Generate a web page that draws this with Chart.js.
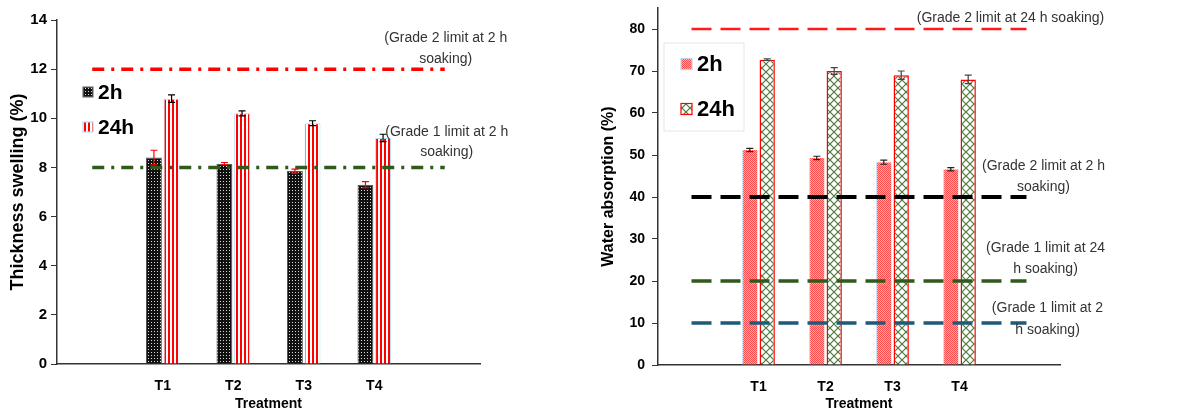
<!DOCTYPE html>
<html lang="en">
<head>
<meta charset="UTF-8" />
<title>Thickness swelling and water absorption</title>
<script src="https://cdn.jsdelivr.net/npm/chart.js"></script>
<style>
  body { margin: 0; background: #fff; }
  .panel { position: absolute; top: 0; height: 413px; }
  #left { left: 0; width: 590px; }
  #right { left: 590px; width: 595px; }
</style>
</head>
<body>
<div class="panel" id="left"><canvas id="swellChart"></canvas></div>
<div class="panel" id="right"><canvas id="waterChart"></canvas></div>

<script>
// ---- data ----
const treatments = ['T1', 'T2', 'T3', 'T4'];

const swell2h = [8.4, 8.15, 7.85, 7.3];
const swell2hErr = [0.3, 0.05, 0.08, 0.12];
const swell24h = [10.8, 10.2, 9.8, 9.2];
const swell24hErr = [0.15, 0.1, 0.1, 0.15];
const swellLimits = [12, 8];
const swellNotes = [['(Grade 2 limit at 2 h', 'soaking)'], ['(Grade 1 limit at 2 h', 'soaking)']];

const water2h = [51.2, 49.3, 48.3, 46.6];
const water2hErr = [0.4, 0.4, 0.5, 0.4];
const water24h = [72.7, 70.0, 69.0, 68.0];
const water24hErr = [0.2, 0.8, 1.0, 1.0];
const waterLimits = [80, 40, 20, 10];
const waterNotes = [['(Grade 2 limit at 24 h soaking)'], ['(Grade 2 limit at 2 h', 'soaking)'],
                    ['(Grade 1 limit at 24', 'h soaking)'], ['(Grade 1 limit at 2', 'h soaking)']];

const seriesNames = ['2h', '24h'];

// empty slot on each side of the treatments, like the original axis
const labels = ['', ...treatments, ''];
const pad = arr => [null, ...arr, null];
const flat = v => labels.map(() => v);

Chart.defaults.font.family = 'Arial, "Liberation Sans", sans-serif';
Chart.defaults.color = '#000';
Chart.defaults.animation = false;

// ---- fill patterns ----
function tile(w, h, draw) {
  const c = document.createElement('canvas');
  c.width = w; c.height = h;
  draw(c.getContext('2d'));
  return c;
}
const pctx = document.getElementById('swellChart').getContext('2d');
const dotsBlack = pctx.createPattern(tile(3, 3, g => {
  g.fillStyle = '#111'; g.fillRect(0, 0, 3, 3);
  g.fillStyle = '#d8d8d8'; g.fillRect(1, 1, 1, 1);
}), 'repeat');
const stripesRed = pctx.createPattern(tile(4, 1, g => {
  g.fillStyle = '#fff'; g.fillRect(0, 0, 4, 1);
  g.fillStyle = '#ff0000'; g.fillRect(0, 0, 2, 1);
}), 'repeat');
const checkSalmon = pctx.createPattern(tile(2, 2, g => {
  g.fillStyle = '#ffaaaa'; g.fillRect(0, 0, 2, 2);
  g.fillStyle = '#ff4c4c'; g.fillRect(0, 0, 1, 1); g.fillRect(1, 1, 1, 1);
}), 'repeat');
const crossGreen = pctx.createPattern(tile(8, 8, g => {
  g.fillStyle = '#fff'; g.fillRect(0, 0, 8, 8);
  g.strokeStyle = '#4d7a3c'; g.lineWidth = 1.2;
  g.beginPath();
  g.moveTo(0, 0); g.lineTo(8, 8);
  g.moveTo(8, 0); g.lineTo(0, 8);
  g.stroke();
}), 'repeat');

// ---- plugins ----
const errorBars = {
  id: 'errorBars',
  afterDatasetsDraw(chart) {
    const ctx = chart.ctx, y = chart.scales.y;
    chart.data.datasets.forEach((ds, i) => {
      if (!ds.errors) return;
      const meta = chart.getDatasetMeta(i);
      ctx.save();
      ctx.strokeStyle = ds.errorColor;
      ctx.lineWidth = 1.2;
      meta.data.forEach((bar, j) => {
        const v = ds.data[j], e = ds.errors[j];
        if (v == null) return;
        const top = y.getPixelForValue(v + e), bot = y.getPixelForValue(v - e);
        ctx.beginPath();
        ctx.moveTo(bar.x, top); ctx.lineTo(bar.x, bot);
        ctx.moveTo(bar.x - 3.5, top); ctx.lineTo(bar.x + 3.5, top);
        ctx.moveTo(bar.x - 3.5, bot); ctx.lineTo(bar.x + 3.5, bot);
        ctx.stroke();
      });
      ctx.restore();
    });
  }
};

const limitNotes = {
  id: 'limitNotes',
  afterDraw(chart, args, opts) {
    const ctx = chart.ctx, x = chart.scales.x, y = chart.scales.y;
    ctx.save();
    ctx.font = '14px Arial, "Liberation Sans", sans-serif';
    ctx.fillStyle = '#333';
    ctx.textAlign = 'center';
    ctx.textBaseline = 'middle';
    opts.items.forEach(it => {
      const cx = x.getPixelForValue(labels.length - 1) + it.dx;
      const base = y.getPixelForValue(it.value);
      it.lines.forEach((t, k) => ctx.fillText(t, cx, base + it.dy[k]));
    });
    ctx.restore();
  }
};

const boxLegend = {
  id: 'boxLegend',
  afterDraw(chart, args, opts) {
    const ctx = chart.ctx, a = chart.chartArea;
    ctx.save();
    if (opts.frame) {
      ctx.strokeStyle = '#e6e6e6'; ctx.lineWidth = 1;
      ctx.strokeRect(a.left + opts.frame[0], opts.frame[1], opts.frame[2], opts.frame[3]);
    }
    ctx.font = 'bold ' + opts.size + 'px Arial, "Liberation Sans", sans-serif';
    ctx.textBaseline = 'middle';
    ctx.textAlign = 'left';
    const bars = chart.data.datasets.filter(d => d.type === 'bar');
    bars.forEach((ds, k) => {
      const mx = a.left + opts.x, my = opts.y[k], s = opts.box;
      ctx.fillStyle = ds.backgroundColor;
      ctx.fillRect(mx, my - s / 2, s, s);
      ctx.strokeStyle = ds.legendBorder;
      ctx.lineWidth = 1.2;
      ctx.strokeRect(mx, my - s / 2, s, s);
      ctx.fillStyle = '#000';
      ctx.fillText(ds.label, mx + s + 5, my + 1);
    });
    ctx.restore();
  }
};

function limitLine(value, color, width, dash) {
  return {
    type: 'line', label: 'limit ' + value, data: flat(value),
    borderColor: color, borderWidth: width, borderDash: dash,
    pointRadius: 0, fill: false, order: 0
  };
}

function axes(o) {
  return {
    x: {
      grid: { display: false },
      border: { display: true, color: '#333', width: 1.5 },
      ticks: { font: { size: 14, weight: 'bold' }, padding: 6, color: '#000' },
      title: { display: true, text: 'Treatment', font: { size: 14, weight: 'bold' }, padding: 0 },
      afterFit: s => { s.height = o.xh; }
    },
    y: {
      min: 0, max: o.max, bounds: 'data',
      grid: { drawOnChartArea: false, drawTicks: true, tickLength: 6, color: '#333' },
      border: { display: true, color: '#333', width: 1.5 },
      ticks: { stepSize: o.step, padding: o.tpad,
               font: { size: o.tsize, weight: 'bold' }, color: '#000' },
      title: { display: true, text: o.title, font: { size: o.ysize, weight: 'bold' }, padding: 0 },
      afterBuildTicks: s => { s.ticks = s.ticks.filter(t => t.value % o.step === 0); },
      afterFit: s => { s.width = o.yw; s.paddingTop = 0; }
    }
  };
}

// ---- left: thickness swelling ----
new Chart(document.getElementById('swellChart'), {
  data: {
    labels: labels,
    datasets: [
      limitLine(swellLimits[0], '#ff0000', 3.5, [12, 7, 3, 7]),
      limitLine(swellLimits[1], '#2f5a1c', 3.5, [12, 7, 3, 7]),
      { type: 'bar', label: seriesNames[0], data: pad(swell2h), errors: pad(swell2hErr), errorColor: '#ff0000',
        backgroundColor: dotsBlack, borderColor: '#555', borderWidth: 1, legendBorder: '#777',
        categoryPercentage: 0.5, barPercentage: 0.9, order: 1 },
      { type: 'bar', label: seriesNames[1], data: pad(swell24h), errors: pad(swell24hErr), errorColor: '#000',
        backgroundColor: stripesRed, borderColor: '#b9dcf2', borderWidth: 1, legendBorder: '#b9dcf2',
        categoryPercentage: 0.5, barPercentage: 0.9, order: 1 }
    ]
  },
  options: {
    responsive: true, maintainAspectRatio: false,
    layout: { padding: { left: 7, top: 20, right: 110, bottom: 0 } },
    scales: axes({ max: 14, step: 2, tsize: 15, tpad: 4, ysize: 18, yw: 50, xh: 49,
                   title: 'Thickness swelling (%)' }),
    plugins: {
      legend: { display: false }, tooltip: { enabled: false },
      limitNotes: { items: [
        { value: swellLimits[0], lines: swellNotes[0], dx: 1, dy: [-31, -10] },
        { value: swellLimits[1], lines: swellNotes[1], dx: 2, dy: [-35, -15] }
      ] },
      boxLegend: { x: 26, y: [92, 127], box: 10, size: 21 }
    }
  },
  plugins: [errorBars, limitNotes, boxLegend]
});

// ---- right: water absorption ----
new Chart(document.getElementById('waterChart'), {
  data: {
    labels: labels,
    datasets: [
      limitLine(waterLimits[0], '#ff1a1a', 2.5, [20, 9]),
      limitLine(waterLimits[1], '#000000', 4, [20, 9]),
      limitLine(waterLimits[2], '#2f5a1c', 3.5, [20, 9]),
      limitLine(waterLimits[3], '#1f5a78', 3.5, [20, 9]),
      { type: 'bar', label: seriesNames[0], data: pad(water2h), errors: pad(water2hErr), errorColor: '#222',
        backgroundColor: checkSalmon, borderColor: '#bcd6ea', borderWidth: { left: 1, right: 0, top: 0, bottom: 0 },
        legendBorder: '#bcd6ea', categoryPercentage: 0.52, barPercentage: 0.88, order: 1 },
      { type: 'bar', label: seriesNames[1], data: pad(water24h), errors: pad(water24hErr), errorColor: '#444',
        backgroundColor: crossGreen, borderColor: '#ff0000', borderWidth: 1.5, legendBorder: '#ff0000',
        categoryPercentage: 0.52, barPercentage: 0.88, order: 1 }
    ]
  },
  options: {
    responsive: true, maintainAspectRatio: false,
    layout: { padding: { left: 9, top: 8, right: 125, bottom: 0 } },
    scales: axes({ max: 85, step: 10, tsize: 14, tpad: 7, ysize: 16, yw: 59, xh: 48,
                   title: 'Water absorption (%)' }),
    plugins: {
      legend: { display: false }, tooltip: { enabled: false },
      limitNotes: { items: [
        { value: waterLimits[0], lines: waterNotes[0], dx: -16, dy: [-11] },
        { value: waterLimits[1], lines: waterNotes[1], dx: 17, dy: [-31, -10] },
        { value: waterLimits[2], lines: waterNotes[2], dx: 19, dy: [-33, -12] },
        { value: waterLimits[3], lines: waterNotes[3], dx: 21, dy: [-15, 7] }
      ] },
      boxLegend: { x: 23, y: [64, 109], box: 11, size: 22, frame: [6, 43, 80, 88] }
    }
  },
  plugins: [errorBars, limitNotes, boxLegend]
});
</script>
</body>
</html>
